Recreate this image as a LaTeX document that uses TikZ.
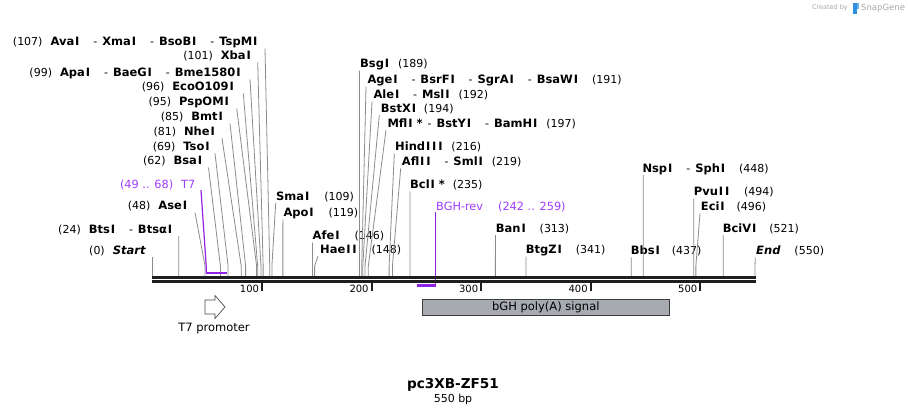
\documentclass[tikz,border=0pt]{standalone}
\usepackage{fontspec}
\usepackage{xstring}
\setmainfont{DejaVu Sans}
\usetikzlibrary{calc}
\noexpandarg
\definecolor{conncol}{HTML}{8C8C8C}
\definecolor{axiscol}{HTML}{1E1E1E}
\definecolor{primtext}{RGB}{160,60,255}
\definecolor{primline}{RGB}{145,35,230}
\definecolor{boxfill}{HTML}{A7ABB1}
\definecolor{boxdraw}{HTML}{3C3C3C}
\definecolor{wmgray}{HTML}{A8A8A8}
\definecolor{wmblue}{HTML}{2F8FE0}
\newcommand\Iw{\makebox[0.53em][c]{I}}
\newcommand\nm[1]{{\fontsize{11.5}{13}\selectfont\bfseries\StrSubstitute{#1}{I}{\Iw}}}
\newcommand\sepd{\hspace{13pt}-\hspace{5pt}}
\newcommand\enzsite[7]{%
  \coordinate (#1t) at (#3,#4);
  \coordinate (#1b) at ({152.5+1.0955*#2},266);
  \coordinate (#1s) at ({152.5+1.0955*#2},276.4);
  \node[lab,anchor=base #5] (#1) at (#6,{#4-3}) {#7};
  \draw[conn] (#1t) -- (#1b) -- (#1s);}
\begin{document}
\begin{tikzpicture}[x=1pt,y=-1pt,
  lab/.style={inner sep=0pt,font=\fontsize{11}{13}\selectfont,text=black},
  conn/.style={draw=conncol,line width=0.8pt},
  axisline/.style={draw=axiscol,line width=2.4pt},
  tickline/.style={draw=axiscol,line width=1.8pt},
  ticklab/.style={inner sep=0pt,font=\fontsize{10}{12}\selectfont,anchor=east},
  primlab/.style={inner sep=0pt,font=\fontsize{11.3}{13}\selectfont,text=primtext},
  primconn/.style={draw=primline,line width=1.2pt},
  primbar/.style={draw=primline,line width=2.4pt},
  featbox/.style={draw=boxdraw,fill=boxfill,line width=1pt,inner sep=0pt},
  featlab/.style={inner sep=0pt,font=\fontsize{11.5}{13}\selectfont},
  arrowshape/.style={draw=black!70,fill=white,line width=0.7pt}]
\useasboundingbox (0,0) rectangle (908,415);
\fill[white] (0,0) rectangle (908,415);

% watermark
\node[inner sep=0pt,anchor=east,text=wmgray,font=\fontsize{6.5}{8}\selectfont] (wm1) at (848,8) {Created by};
\fill[wmblue] (853,2.5) rectangle (856.5,14);
\fill[wmblue!70] (856.5,2.5) rectangle (858.5,8.5);
\node[inner sep=0pt,anchor=west,text=wmgray,font=\fontsize{8.5}{10}\selectfont] (wm2) at (861,8) {SnapGene};

% left stack
\enzsite{e107}{107}{265}{48.5}{east}{258.5}{(107)\hspace{8pt}\nm{AvaI}\sepd\nm{XmaI}\sepd\nm{BsoBI}\sepd\nm{TspMI}}
\enzsite{e101}{101}{257.7}{62.3}{east}{252}{(101)\hspace{8pt}\nm{XbaI}}
\enzsite{e99}{99}{250}{79.3}{east}{241.7}{(99)\hspace{8pt}\nm{ApaI}\sepd\nm{BaeGI}\sepd\nm{Bme1580I}}
\enzsite{e96}{96}{243.3}{93.5}{east}{235}{(96)\hspace{8pt}\nm{EcoO109I}}
\enzsite{e95}{95}{236.7}{108.3}{east}{230}{(95)\hspace{8pt}\nm{PspOMI}}
\enzsite{e85}{85}{230}{123.5}{east}{224}{(85)\hspace{8pt}\nm{BmtI}}
\enzsite{e81}{81}{222}{138.3}{east}{216}{(81)\hspace{8pt}\nm{NheI}}
\enzsite{e69}{69}{215}{153.3}{east}{210.7}{(69)\hspace{8pt}\nm{TsoI}}
\enzsite{e62}{62}{208.5}{167.5}{east}{203.3}{(62)\hspace{8pt}\nm{BsaI}}
\enzsite{e48}{48}{195}{212.7}{east}{188.3}{(48)\hspace{8pt}\nm{AseI}}
\enzsite{e24}{24}{178.8}{236}{east}{173.3}{(24)\hspace{8pt}\nm{BtsI}\sepd\nm{BtsαI}}
\enzsite{e0}{0}{152.5}{257.3}{east}{145.7}{(0)\hspace{8pt}{\fontsize{11.5}{13}\selectfont\bfseries\itshape Start}}

% middle left
\enzsite{e109}{109}{275.7}{203}{west}{276}{\nm{SmaI}\hspace{14pt}(109)}
\enzsite{e119}{119}{282.9}{219.3}{west}{283.3}{\nm{ApoI}\hspace{14pt}(119)}
\enzsite{e146}{146}{312.4}{242.7}{west}{312.5}{\nm{AfeI}\hspace{14pt}(146)}
\enzsite{e148}{148}{318}{256.3}{west}{320}{\nm{HaeII}\hspace{14pt}(148)}

% middle stack
\enzsite{e189}{189}{359.5}{70.7}{west}{360}{\nm{BsgI}\hspace{8pt}(189)}
\enzsite{e191}{191}{366}{86.7}{west}{367.3}{\nm{AgeI}\sepd\nm{BsrFI}\sepd\nm{SgrAI}\sepd\nm{BsaWI}\hspace{13pt}(191)}
\enzsite{e192}{192}{372}{101.7}{west}{373.3}{\nm{AleI}\sepd\nm{MslI}\hspace{8pt}(192)}
\enzsite{e194}{194}{379.3}{115}{west}{380.7}{\nm{BstXI}\hspace{7pt}(194)}
\enzsite{e197}{197}{386}{130}{west}{387.3}{\nm{MflI}\hspace{3pt}\nm{*}\hspace{5pt}-\hspace{5pt}\nm{BstYI}\sepd\nm{BamHI}\hspace{8pt}(197)}
\enzsite{e216}{216}{394.3}{153.3}{west}{395}{\nm{HindIII}\hspace{8pt}(216)}
\enzsite{e219}{219}{400.7}{168.3}{west}{401.7}{\nm{AflII}\sepd\nm{SmlI}\hspace{8pt}(219)}
\enzsite{e235}{235}{409.9}{191.7}{west}{410}{\nm{BclI}\hspace{3pt}\nm{*}\hspace{8pt}(235)}

% right
\enzsite{e313}{313}{495.4}{235}{west}{495.7}{\nm{BanI}\hspace{13pt}(313)}
\enzsite{e341}{341}{526}{256.7}{west}{525.7}{\nm{BtgZI}\hspace{13pt}(341)}
\enzsite{e437}{437}{631.2}{257.3}{west}{630.7}{\nm{BbsI}\hspace{11pt}(437)}
\enzsite{e448}{448}{643.3}{175}{west}{642.3}{\nm{NspI}\sepd\nm{SphI}\hspace{13pt}(448)}
\enzsite{e494}{494}{693.7}{198.3}{west}{693.7}{\nm{PvuII}\hspace{14pt}(494)}
\enzsite{e496}{496}{700}{213.3}{west}{700.7}{\nm{EciI}\hspace{11pt}(496)}
\enzsite{e521}{521}{723.2}{235}{west}{722.7}{\nm{BciVI}\hspace{12pt}(521)}
\enzsite{e550}{550}{755.3}{257.3}{west}{756}{{\fontsize{11.5}{13}\selectfont\bfseries\itshape End}\hspace{14pt}(550)}

% primers
\node[primlab,anchor=base east] (t7lab) at (195.5,188) {(49 .. 68)\hspace{8pt}T7};
\coordinate (t7top) at (201,190);
\coordinate (t7bend) at (206.2,266);
\coordinate (t7a) at (206.2,272.7);
\coordinate (t7b) at (227,272.7);
\draw[primconn] (t7top) -- (t7bend) -- (t7a);
\draw[primbar] (t7a) -- (t7b);

\node[primlab,anchor=base west] (bghlab) at (436,210.7) {BGH-rev\hspace{15pt}(242 .. 259)};
\coordinate (bghtop) at (435.6,211.7);
\coordinate (bgha) at (435.6,285.6);
\coordinate (bghb) at (417.3,285.6);
\draw[primconn] (bghtop) -- (bgha);
\draw[primbar] (bgha) -- (bghb);

% axis
\coordinate (ax0) at (152.3,0);
\coordinate (ax1) at (755.5,0);
\draw[axisline] (ax0 |- 0,277.6) -- (ax1 |- 0,277.6);
\draw[axisline] (ax0 |- 0,281.4) -- (ax1 |- 0,281.4);
\foreach \k in {100,200,300,400,500} {
  \coordinate (tk\k) at ({152.5+1.0955*\k},282.5);
  \draw[tickline] (tk\k) -- ++(0,8.5);
  \node[ticklab] (tl\k) at ($(tk\k)+(-2.8,6.5)$) {\k};
}

% features
\draw[arrowshape] (205,300) -- (215,300) -- (215,295.5) -- (225,307) -- (215,318.5) -- (215,314) -- (205,314) -- cycle;
\node[featlab] (t7prom) at (214,328.3) {T7 promoter};
\node[featbox,minimum width=247pt,minimum height=15.7pt] (bgh) at (545.8,307.2) {};
\node[featlab] (bghlab2) at (bgh.center) {bGH poly(A) signal};

% title
\node[inner sep=0pt,font=\bfseries\fontsize{13.6}{15}\selectfont] (title) at (453,384.5) {pc3XB-ZF51};
\node[inner sep=0pt,font=\fontsize{11}{12}\selectfont] (sub) at (453,399.3) {550 bp};
\end{tikzpicture}
\end{document}
